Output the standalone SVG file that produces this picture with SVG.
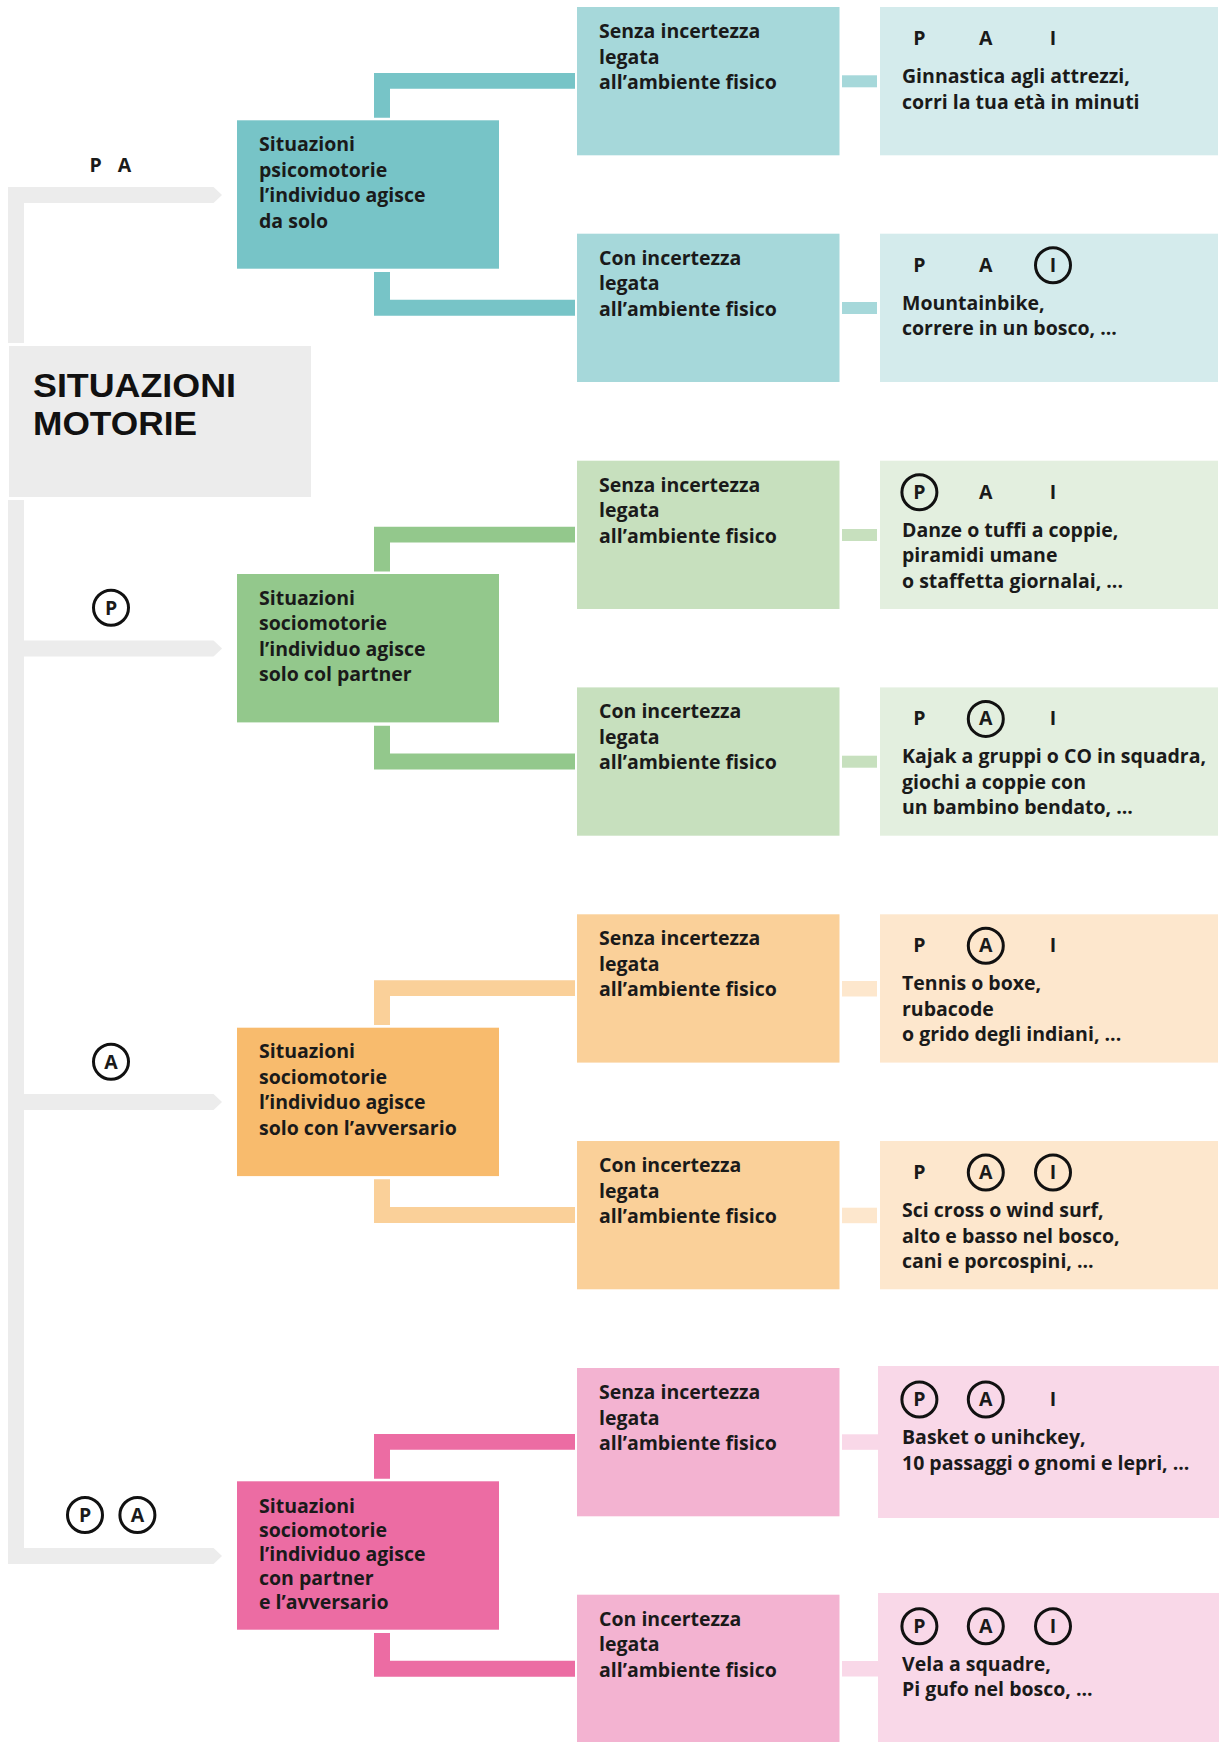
<svg xmlns="http://www.w3.org/2000/svg" width="1219" height="1742" viewBox="0 0 1219 1742">
<style>
.t{font-family:"Open Sans","Noto Sans","Liberation Sans",sans-serif;font-weight:700;font-size:19.5px;fill:#1a1a1a}
.ttl{font-family:"Liberation Sans",Arial,sans-serif;font-weight:700;font-size:33.5px;fill:#111}
.m{text-anchor:middle}
.c{fill:none;stroke:#111;stroke-width:3}
.gray{fill:#ECECEC}
.teal1{fill:#77C4C7}.teal2{fill:#A6D8DA}.teal3{fill:#D4EBEC}
.grn1{fill:#93C88C}.grn2{fill:#C7E0BE}.grn3{fill:#E3EFDF}
.org1{fill:#F8BB6D}.org2{fill:#FAD099}.org3{fill:#FDE7CD}
.pnk1{fill:#EC6CA3}.pnk2{fill:#F3B3D1}.pnk3{fill:#F9D8E8}
</style>
<rect width="1219" height="1742" fill="#fff"/>

<g id="connectors">
  <rect class="gray" x="8" y="187" width="16" height="156"/>
  <rect class="gray" x="8" y="500" width="16" height="1064"/>
  <polygon class="gray" points="8,187 213.5,187 222,195 213.5,203 8,203"/>
  <polygon class="gray" points="8,640.5 213.5,640.5 222,648.5 213.5,656.5 8,656.5"/>
  <polygon class="gray" points="8,1094 213.5,1094 222,1102 213.5,1110 8,1110"/>
  <polygon class="gray" points="8,1548 213.5,1548 222,1556 213.5,1564 8,1564"/>
  <polygon class="teal1" points="374,73 575,73 575,88.7 390,88.7 390,117.7 374,117.7"/>
  <polygon class="teal1" points="374,272 390,272 390,299.7 575,299.7 575,315.7 374,315.7"/>
  <rect class="teal2" x="842" y="75.3" width="35" height="12"/>
  <rect class="teal2" x="842" y="302" width="35" height="12"/>
  <polygon class="grn1" points="374,526.7 575,526.7 575,542.4 390,542.4 390,571.4 374,571.4"/>
  <polygon class="grn1" points="374,725.7 390,725.7 390,753.4 575,753.4 575,769.4 374,769.4"/>
  <rect class="grn2" x="842" y="529" width="35" height="12"/>
  <rect class="grn2" x="842" y="755.7" width="35" height="12"/>
  <polygon class="org2" points="374,980.3 575,980.3 575,996 390,996 390,1025 374,1025"/>
  <polygon class="org2" points="374,1179.3 390,1179.3 390,1207 575,1207 575,1223 374,1223"/>
  <rect class="org3" x="842" y="981" width="35" height="15.5"/>
  <rect class="org3" x="842" y="1207.7" width="35" height="15.5"/>
  <polygon class="pnk1" points="374,1434 575,1434 575,1449.7 390,1449.7 390,1478.7 374,1478.7"/>
  <polygon class="pnk1" points="374,1633 390,1633 390,1660.7 575,1660.7 575,1676.7 374,1676.7"/>
  <rect class="pnk3" x="842" y="1434.3" width="36" height="15.5"/>
  <rect class="pnk3" x="842" y="1661" width="36" height="15.5"/>
</g>

<g id="labels">
  <text class="t m" x="95.7" y="171.7">P</text>
  <text class="t m" x="124.4" y="171.7">A</text>
  <circle class="c" cx="111" cy="607.7" r="17.5"/><text class="t m" x="111" y="614.7">P</text>
  <circle class="c" cx="111" cy="1061.7" r="17.5"/><text class="t m" x="111" y="1068.7">A</text>
  <circle class="c" cx="85" cy="1515" r="17.5"/><text class="t m" x="85" y="1522">P</text>
  <circle class="c" cx="137.4" cy="1515" r="17.5"/><text class="t m" x="137.4" y="1522">A</text>
</g>

<g id="root">
  <rect class="gray" x="9" y="346" width="302" height="151"/>
  <text class="ttl" x="33" y="396.7" textLength="203" lengthAdjust="spacingAndGlyphs">SITUAZIONI</text>
  <text class="ttl" x="33" y="435" textLength="164" lengthAdjust="spacingAndGlyphs">MOTORIE</text>
</g>

<g id="n1">
  <rect class="teal1" x="237" y="120.3" width="262" height="148.4"/>
  <text class="t" x="259" y="151">Situazioni</text>
  <text class="t" x="259" y="176.5">psicomotorie</text>
  <text class="t" x="259" y="202">l’individuo agisce</text>
  <text class="t" x="259" y="227.5">da solo</text>
</g>
<g id="n2">
  <rect class="grn1" x="237" y="574" width="262" height="148.4"/>
  <text class="t" x="259" y="604.7">Situazioni</text>
  <text class="t" x="259" y="630.2">sociomotorie</text>
  <text class="t" x="259" y="655.7">l’individuo agisce</text>
  <text class="t" x="259" y="681.2">solo col partner</text>
</g>
<g id="n3">
  <rect class="org1" x="237" y="1027.7" width="262" height="148.4"/>
  <text class="t" x="259" y="1058.4">Situazioni</text>
  <text class="t" x="259" y="1083.9">sociomotorie</text>
  <text class="t" x="259" y="1109.4">l’individuo agisce</text>
  <text class="t" x="259" y="1134.9">solo con l’avversario</text>
</g>
<g id="n4">
  <rect class="pnk1" x="237" y="1481.3" width="262" height="148.4"/>
  <text class="t" x="259" y="1512.7">Situazioni</text>
  <text class="t" x="259" y="1536.7">sociomotorie</text>
  <text class="t" x="259" y="1560.7">l’individuo agisce</text>
  <text class="t" x="259" y="1584.7">con partner</text>
  <text class="t" x="259" y="1608.7">e l’avversario</text>
</g>

<g id="n1a">
  <rect class="teal2" x="577" y="7" width="262.5" height="148.3"/>
  <text class="t" x="599" y="38">Senza incertezza</text>
  <text class="t" x="599" y="63.5">legata</text>
  <text class="t" x="599" y="89">all’ambiente fisico</text>
</g>
<g id="n1b">
  <rect class="teal2" x="577" y="233.7" width="262.5" height="148.3"/>
  <text class="t" x="599" y="264.7">Con incertezza</text>
  <text class="t" x="599" y="290.2">legata</text>
  <text class="t" x="599" y="315.7">all’ambiente fisico</text>
</g>
<g id="n2a">
  <rect class="grn2" x="577" y="460.7" width="262.5" height="148.3"/>
  <text class="t" x="599" y="491.7">Senza incertezza</text>
  <text class="t" x="599" y="517.2">legata</text>
  <text class="t" x="599" y="542.7">all’ambiente fisico</text>
</g>
<g id="n2b">
  <rect class="grn2" x="577" y="687.4" width="262.5" height="148.3"/>
  <text class="t" x="599" y="718.4">Con incertezza</text>
  <text class="t" x="599" y="743.9">legata</text>
  <text class="t" x="599" y="769.4">all’ambiente fisico</text>
</g>
<g id="n3a">
  <rect class="org2" x="577" y="914.3" width="262.5" height="148.3"/>
  <text class="t" x="599" y="945.3">Senza incertezza</text>
  <text class="t" x="599" y="970.8">legata</text>
  <text class="t" x="599" y="996.3">all’ambiente fisico</text>
</g>
<g id="n3b">
  <rect class="org2" x="577" y="1141" width="262.5" height="148.3"/>
  <text class="t" x="599" y="1172">Con incertezza</text>
  <text class="t" x="599" y="1197.5">legata</text>
  <text class="t" x="599" y="1223">all’ambiente fisico</text>
</g>
<g id="n4a">
  <rect class="pnk2" x="577" y="1368" width="262.5" height="148.3"/>
  <text class="t" x="599" y="1399">Senza incertezza</text>
  <text class="t" x="599" y="1424.5">legata</text>
  <text class="t" x="599" y="1450">all’ambiente fisico</text>
</g>
<g id="n4b">
  <rect class="pnk2" x="577" y="1594.7" width="262.5" height="148.3"/>
  <text class="t" x="599" y="1625.7">Con incertezza</text>
  <text class="t" x="599" y="1651.2">legata</text>
  <text class="t" x="599" y="1676.7">all’ambiente fisico</text>
</g>

<g id="e1a">
  <rect class="teal3" x="880" y="7" width="338" height="148.3"/>
  <text class="t m" x="919.4" y="45">P</text><text class="t m" x="985.8" y="45">A</text><text class="t m" x="1053" y="45">I</text>
  <text class="t" x="902" y="83">Ginnastica agli attrezzi,</text>
  <text class="t" x="902" y="108.5">corri la tua età in minuti</text>
</g>
<g id="e1b">
  <rect class="teal3" x="880" y="233.7" width="338" height="148.3"/>
  <text class="t m" x="919.4" y="271.7">P</text><text class="t m" x="985.8" y="271.7">A</text><text class="t m" x="1053" y="271.7">I</text>
  <circle class="c" cx="1053" cy="265.2" r="17.5"/>
  <text class="t" x="902" y="309.7">Mountainbike,</text>
  <text class="t" x="902" y="335.2">correre in un bosco, ...</text>
</g>
<g id="e2a">
  <rect class="grn3" x="880" y="460.7" width="338" height="148.3"/>
  <text class="t m" x="919.4" y="498.7">P</text><text class="t m" x="985.8" y="498.7">A</text><text class="t m" x="1053" y="498.7">I</text>
  <circle class="c" cx="919.4" cy="492.2" r="17.5"/>
  <text class="t" x="902" y="536.7">Danze o tuffi a coppie,</text>
  <text class="t" x="902" y="562.2">piramidi umane</text>
  <text class="t" x="902" y="587.7">o staffetta giornalai, ...</text>
</g>
<g id="e2b">
  <rect class="grn3" x="880" y="687.4" width="338" height="148.3"/>
  <text class="t m" x="919.4" y="725.4">P</text><text class="t m" x="985.8" y="725.4">A</text><text class="t m" x="1053" y="725.4">I</text>
  <circle class="c" cx="985.8" cy="718.9" r="17.5"/>
  <text class="t" x="902" y="763.4">Kajak a gruppi o CO in squadra,</text>
  <text class="t" x="902" y="788.9">giochi a coppie con</text>
  <text class="t" x="902" y="814.4">un bambino bendato, ...</text>
</g>
<g id="e3a">
  <rect class="org3" x="880" y="914.3" width="338" height="148.3"/>
  <text class="t m" x="919.4" y="952.3">P</text><text class="t m" x="985.8" y="952.3">A</text><text class="t m" x="1053" y="952.3">I</text>
  <circle class="c" cx="985.8" cy="945.8" r="17.5"/>
  <text class="t" x="902" y="990.3">Tennis o boxe,</text>
  <text class="t" x="902" y="1015.8">rubacode</text>
  <text class="t" x="902" y="1041.3">o grido degli indiani, ...</text>
</g>
<g id="e3b">
  <rect class="org3" x="880" y="1141" width="338" height="148.3"/>
  <text class="t m" x="919.4" y="1179">P</text><text class="t m" x="985.8" y="1179">A</text><text class="t m" x="1053" y="1179">I</text>
  <circle class="c" cx="985.8" cy="1172.5" r="17.5"/>
  <circle class="c" cx="1053" cy="1172.5" r="17.5"/>
  <text class="t" x="902" y="1217">Sci cross o wind surf,</text>
  <text class="t" x="902" y="1242.5">alto e basso nel bosco,</text>
  <text class="t" x="902" y="1268">cani e porcospini, ...</text>
</g>
<g id="e4a">
  <rect class="pnk3" x="878" y="1366" width="341" height="152"/>
  <text class="t m" x="919.4" y="1406">P</text><text class="t m" x="985.8" y="1406">A</text><text class="t m" x="1053" y="1406">I</text>
  <circle class="c" cx="919.4" cy="1399.5" r="17.5"/>
  <circle class="c" cx="985.8" cy="1399.5" r="17.5"/>
  <text class="t" x="902" y="1444">Basket o unihckey,</text>
  <text class="t" x="902" y="1469.5">10 passaggi o gnomi e lepri, ...</text>
</g>
<g id="e4b">
  <rect class="pnk3" x="878" y="1593" width="341" height="152"/>
  <text class="t m" x="919.4" y="1632.7">P</text><text class="t m" x="985.8" y="1632.7">A</text><text class="t m" x="1053" y="1632.7">I</text>
  <circle class="c" cx="919.4" cy="1626.2" r="17.5"/>
  <circle class="c" cx="985.8" cy="1626.2" r="17.5"/>
  <circle class="c" cx="1053" cy="1626.2" r="17.5"/>
  <text class="t" x="902" y="1670.7">Vela a squadre,</text>
  <text class="t" x="902" y="1696.2">Pi gufo nel bosco, ...</text>
</g>
</svg>
